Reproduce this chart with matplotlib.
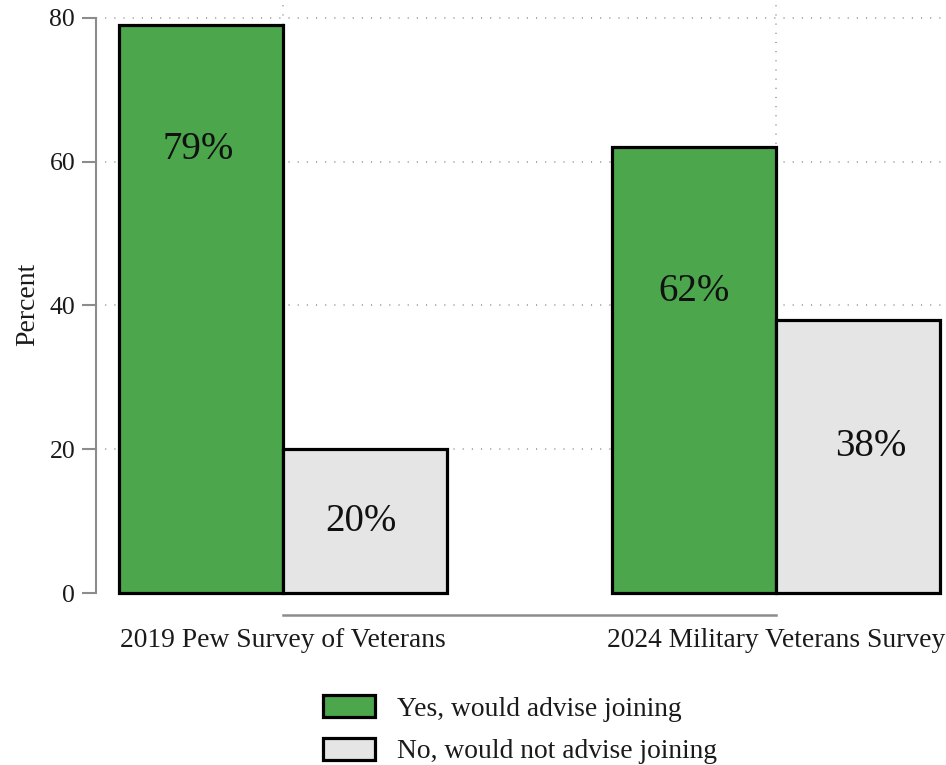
import numpy as np
import matplotlib
matplotlib.use("Agg")
import matplotlib.pyplot as plt
from matplotlib.patches import Patch

# Data
surveys = ["2019 Pew Survey of Veterans", "2024 Military Veterans Survey"]
series_names = ["Yes, would advise joining", "No, would not advise joining"]
yes_pct = [79, 62]
no_pct = [20, 38]
y_ticks = [0, 20, 40, 60, 80]

# label placement inside bars (data units)
yes_label_y = [61.7, 42]
no_label_y = [10, 20.4]
yes_label_dx = [-0.006, 0.0]
no_label_dx = [-0.008, 0.025]

green = "#4ca64c"
grey = "#e5e5e5"
axis_grey = "#8c8c8c"
dot_style = (0, (0.7, 5.3))

plt.rcParams["font.family"] = ["Liberation Serif", "DejaVu Serif"]

fig = plt.figure(figsize=(9.46, 7.65), dpi=100)
ax = fig.add_axes([96 / 946, (765 - 593) / 765, 850 / 946, 589.4 / 765])

x = np.arange(len(surveys))
w = 1 / 3

# dotted grid behind the bars
for yv in y_ticks[1:]:
    ax.axhline(yv, color="#8f8f8f", lw=1.1, linestyle=dot_style, zorder=0)
for xv in x:
    ax.axvline(xv, color="#8f8f8f", lw=1.1, linestyle=dot_style, zorder=0)

ax.bar(x - w / 2, yes_pct, w, color=green, edgecolor="black", linewidth=2.3, zorder=2, clip_on=False)
ax.bar(x + w / 2, no_pct, w, color=grey, edgecolor="black", linewidth=2.3, zorder=2, clip_on=False)

for i in range(len(surveys)):
    ax.text(x[i] - w / 2 + yes_label_dx[i], yes_label_y[i], f"{yes_pct[i]}%", ha="center", va="center",
            fontsize=28, color="#111111", zorder=3)
    ax.text(x[i] + w / 2 + no_label_dx[i], no_label_y[i], f"{no_pct[i]}%", ha="center", va="center",
            fontsize=28, color="#111111", zorder=3)

ax.set_xlim((96 - 283) / 493, (946 - 283) / 493)
ax.set_ylim(0, 82)

for s in ["top", "right"]:
    ax.spines[s].set_visible(False)
ax.spines["left"].set_bounds(0, 80)
ax.spines["left"].set_color(axis_grey)
ax.spines["left"].set_linewidth(1.5)
ax.spines["bottom"].set_position(("outward", 16))
ax.spines["bottom"].set_bounds(0, 1)
ax.spines["bottom"].set_color(axis_grey)
ax.spines["bottom"].set_linewidth(1.8)

ax.set_yticks(y_ticks)
ax.set_yticklabels([str(v) for v in y_ticks])
ax.tick_params(axis="y", length=10, width=1.5, color=axis_grey, pad=5, labelsize=18.5, labelcolor="#1a1a1a")
ax.set_xticks(x)
ax.set_xticklabels(surveys)
ax.tick_params(axis="x", length=0, pad=9, labelsize=19.8, labelcolor="#1a1a1a")

ax.set_ylabel("Percent", fontsize=20, color="#1a1a1a")
ax.yaxis.set_label_coords(-0.066, 0.49)

handles = [Patch(facecolor=green, edgecolor="black", linewidth=2.3),
           Patch(facecolor=grey, edgecolor="black", linewidth=2.3)]
fig.legend(handles, series_names, loc="upper left", bbox_to_anchor=(323 / 946, 1 - 695 / 765),
           frameon=False, fontsize=19.8, handlelength=1.89, handleheight=0.87,
           handletextpad=0.8, labelspacing=0.58, borderpad=0, borderaxespad=0,
           labelcolor="#1a1a1a")

fig.savefig("out.png", dpi=100)
